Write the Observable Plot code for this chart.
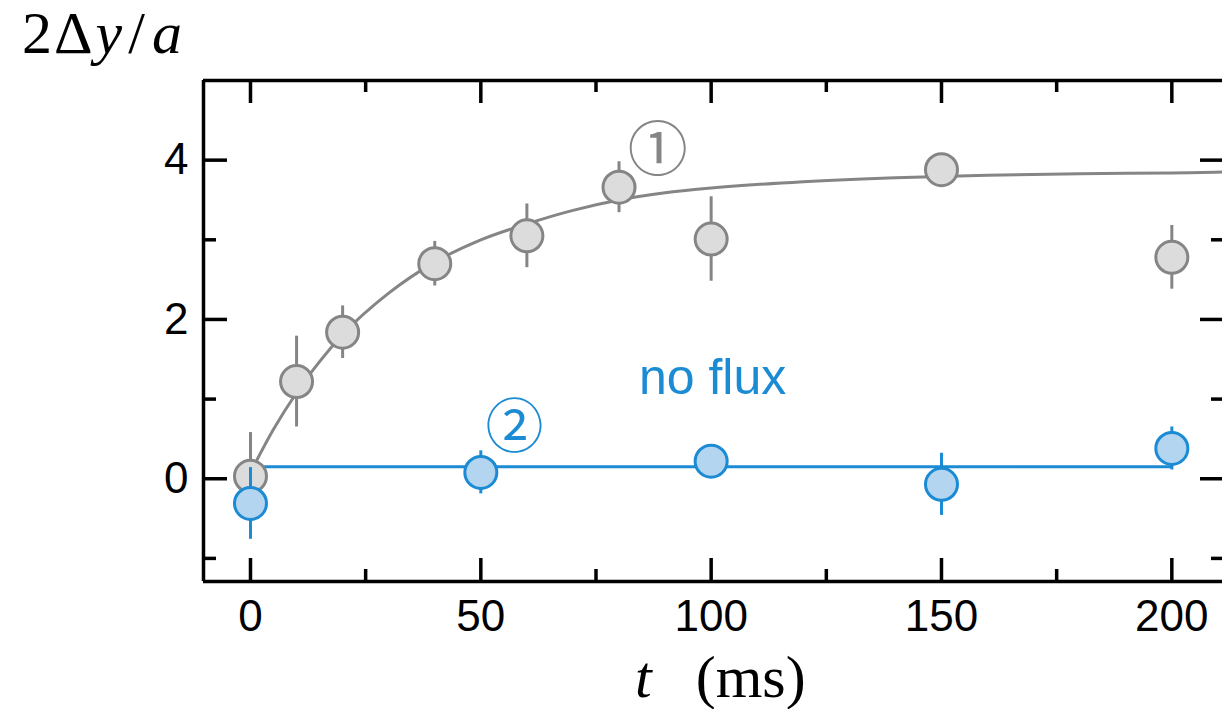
<!DOCTYPE html>
<html>
<head>
<meta charset="utf-8">
<script src="https://cdn.jsdelivr.net/npm/d3@7"></script>
<script src="https://cdn.jsdelivr.net/npm/@observablehq/plot@0.6"></script>
<style>
  html, body { margin: 0; padding: 0; background: #fff; overflow: hidden; }
  #chart { width: 1222px; height: 709px; }
</style>
</head>
<body>
<div id="chart"></div>
<script>
// ---- data ----
// series 1 (gray, with flux)
const t1 = [0, 10, 20, 40, 60, 80, 100, 150, 200];
const y1 = [0.03, 1.22, 1.84, 2.70, 3.05, 3.66, 3.01, 3.88, 2.78];
const e1 = [0.55, 0.57, 0.33, 0.28, 0.40, 0.32, 0.53, 0.10, 0.40];
// series 2 (blue, no flux)
const t2 = [0, 50, 100, 150, 200];
const y2 = [-0.31, 0.08, 0.22, -0.07, 0.38];
const e2 = [0.45, 0.27, 0.08, 0.39, 0.27];
// fitted saturation curve for series 1
const fitT = [0, 5, 10, 15, 20, 30, 40, 50, 60, 70, 80, 90, 100, 120, 140, 160, 180, 200, 211];
const fitY = [0.08, 0.62, 1.08, 1.47, 1.81, 2.33, 2.72, 3.00, 3.20, 3.37, 3.50, 3.59, 3.65, 3.73, 3.78, 3.81, 3.83, 3.84, 3.85];
// constant level for series 2
const flatT = [0, 200];
const flatY = [0.15, 0.15];
// axes
const xDomain = [-10.2, 211];
const yDomain = [-1.29, 5.0];
const xMajor = [0, 50, 100, 150, 200];
const xMinor = [25, 75, 125, 175];
const yMajor = [0, 2, 4];
const yMinor = [-1, 1, 3];

const s1 = t1.map((t, i) => ({t, y: y1[i], e: e1[i]}));
const s2 = t2.map((t, i) => ({t, y: y2[i], e: e2[i]}));
const fit = fitT.map((t, i) => ({t, y: fitY[i]}));
const flat = flatT.map((t, i) => ({t, y: flatY[i]}));

const GRAY = "#858585", GRAY_FILL = "#dcdcdc";
const BLUE = "#1b8bd3", BLUE_FILL = "#b3d5f0";

// layout
const W = 1222, H = 709, ML = 203, MT = 80, MR = 0, MB = 128;
// pixel lengths of inward ticks converted through the scale resolution
const kx = (W - ML - MR) / (xDomain[1] - xDomain[0]);
const ky = (H - MT - MB) / (yDomain[1] - yDomain[0]);
const majLen = 23, minLen = 12;
const TW = 3.5;
const tickStyle = {stroke: "black", strokeWidth: TW};
const fmt = d => String(d);

const chart = Plot.plot({
  width: W,
  height: H,
  marginLeft: ML,
  marginTop: MT,
  marginRight: MR,
  marginBottom: MB,
  x: {domain: xDomain, label: null},
  y: {domain: yDomain, label: null},
  style: {fontFamily: "'Liberation Sans', Arial, sans-serif", fontSize: "44px", background: "#fff", color: "black"},
  marks: [
    // frame (left, top, bottom)
    Plot.ruleX([xDomain[0]], {stroke: "black", strokeWidth: TW}),
    Plot.ruleY([yDomain[0], yDomain[1]], {stroke: "black", strokeWidth: TW}),
    // inward ticks, bottom and top
    Plot.ruleX(xMajor, {...tickStyle, x: d => d, y1: yDomain[0], y2: yDomain[0] + majLen / ky}),
    Plot.ruleX(xMinor, {...tickStyle, x: d => d, y1: yDomain[0], y2: yDomain[0] + minLen / ky}),
    Plot.ruleX(xMajor, {...tickStyle, x: d => d, y1: yDomain[1], y2: yDomain[1] - majLen / ky}),
    Plot.ruleX(xMinor, {...tickStyle, x: d => d, y1: yDomain[1], y2: yDomain[1] - minLen / ky}),
    // inward ticks, left and right
    Plot.ruleY(yMajor, {...tickStyle, y: d => d, x1: xDomain[0], x2: xDomain[0] + 24 / kx}),
    Plot.ruleY(yMinor, {...tickStyle, y: d => d, x1: xDomain[0], x2: xDomain[0] + 13 / kx}),
    Plot.ruleY(yMajor, {...tickStyle, y: d => d, x1: xDomain[1], x2: xDomain[1] - 22 / kx}),
    Plot.ruleY(yMinor, {...tickStyle, y: d => d, x1: xDomain[1], x2: xDomain[1] - 11 / kx}),
    // tick labels
    Plot.axisX(xMajor, {anchor: "bottom", tickSize: 0, tickPadding: 18, label: null, fill: "black", tickFormat: fmt}),
    Plot.axisY(yMajor, {anchor: "left", tickSize: 0, tickPadding: 15, label: null, fill: "black", tickFormat: fmt}),
    // lines
    Plot.line(flat, {x: "t", y: "y", stroke: BLUE, strokeWidth: 3}),
    Plot.line(fit, {x: "t", y: "y", stroke: GRAY, strokeWidth: 3, curve: "monotone-x"}),
    // series 1
    Plot.ruleX(s1, {x: "t", y1: d => d.y - d.e, y2: d => d.y + d.e, stroke: GRAY, strokeWidth: 3}),
    Plot.dot(s1, {x: "t", y: "y", r: 16, fill: GRAY_FILL, stroke: GRAY, strokeWidth: 3}),
    // series 2
    Plot.ruleX(s2, {x: "t", y1: d => d.y - d.e, y2: d => d.y + d.e, stroke: BLUE, strokeWidth: 3}),
    Plot.dot(s2, {x: "t", y: "y", r: 16, fill: BLUE_FILL, stroke: BLUE, strokeWidth: 3}),
    // annotations
    Plot.text(["①"], {x: 88.4, y: 4.10, text: d => d, fill: GRAY, fontSize: 60, fontFamily: "'Noto Sans CJK JP', sans-serif", textAnchor: "middle", lineAnchor: "middle"}),
    Plot.text(["②"], {x: 57.3, y: 0.63, text: d => d, fill: BLUE, fontSize: 58, fontFamily: "'Noto Sans CJK JP', sans-serif", textAnchor: "middle", lineAnchor: "middle"}),
    Plot.text(["no flux"], {x: 100.3, y: 1.27, text: d => d, fill: BLUE, fontSize: 50, textAnchor: "middle", lineAnchor: "middle"})
  ]
});

document.getElementById("chart").appendChild(chart);

// axis titles with mixed upright / italic math styling
const svg = d3.select(chart);
const yt = svg.append("text")
  .attr("x", 22).attr("y", 53)
  .attr("text-anchor", "start")
  .attr("font-family", "'Liberation Serif', 'DejaVu Serif', serif")
  .attr("font-size", 60)
  .attr("fill", "black");
yt.append("tspan").text("2");
yt.append("tspan").attr("dx", 2).text("Δ");
yt.append("tspan").attr("font-style", "italic").attr("dx", 3).text("y");
yt.append("tspan").attr("dx", 6).text("/");
yt.append("tspan").attr("font-style", "italic").attr("dx", 7).text("a");

const xt = svg.append("text")
  .attr("x", 635).attr("y", 697)
  .attr("text-anchor", "start")
  .attr("font-family", "'Liberation Serif', 'DejaVu Serif', serif")
  .attr("font-size", 60)
  .attr("fill", "black");
xt.append("tspan").attr("font-style", "italic").text("t");
xt.append("tspan").attr("dx", 44).text("(ms)");
</script>
</body>
</html>
